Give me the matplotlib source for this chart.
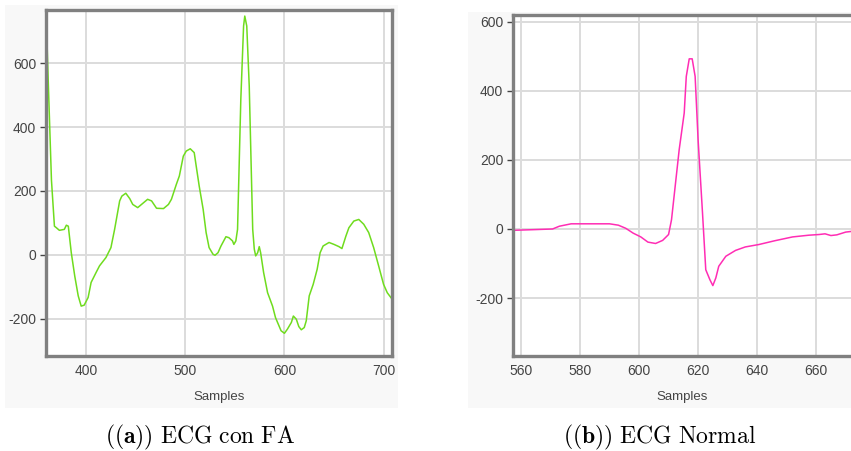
import matplotlib.pyplot as plt
from matplotlib.patches import Rectangle

# ECG with atrial fibrillation (left panel)
fa_samples = [359.5, 362, 365, 368, 370, 373, 378, 380, 382, 385, 388.5, 392, 395, 398,
              402, 405, 410, 413.5, 420, 425, 428.7, 433.8, 436, 440, 444, 447, 452,
              457, 462, 466, 471, 478, 483, 486, 491, 494, 498, 501, 505, 509, 511,
              514, 518, 521, 524, 528, 530, 533, 536, 541, 544, 547.6, 549, 551, 552.7,
              556, 558.8, 560, 562, 564.5, 568, 569.6, 571, 573, 574.6, 576, 579, 583,
              588, 591, 596.6, 600, 603, 607, 609, 612, 614.5, 617, 620, 622, 625, 629,
              633, 636, 639, 645, 650, 655, 658, 662, 665, 670, 675, 680, 685, 690,
              695, 700, 703.7, 708.8]
fa_values = [768, 520, 234, 90, 85, 77, 80, 93, 90, 7, -66, -128, -160, -157,
             -133, -86, -55, -34, -8, 23, 80, 169, 184, 193, 176, 158, 148,
             161, 174, 169, 146, 145, 158, 174, 221, 247, 309, 325, 332, 320, 278,
             216, 143, 70, 23, 2, -1, 7, 28, 57, 54, 44, 33, 44, 80,
             486, 716, 747, 716, 528, 80, 18, -3, 7, 26, 7, -55, -118,
             -160, -196, -237, -245, -232, -211, -191, -201, -224, -234, -227, -206, -128, -92,
             -45, 7, 28, 39, 33, 26, 20, 59, 85, 106, 111, 96, 70, 23,
             -34, -92, -118, -139]

# Normal ECG (right panel)
nor_samples = [556.8, 564, 570.7, 573, 577, 584, 590, 593, 595.5, 598, 600.6, 603, 605.6,
               608, 610, 611, 613.6, 615.3, 616, 617, 618, 619, 620, 621.5, 622.6, 624,
               625, 626, 627, 629.4, 632.7, 636, 640.6, 646, 652, 657.5, 661, 663, 665,
               667, 670, 672]
nor_values = [-4, -2, 0, 8, 15, 15, 15, 11, 2, -12, -23, -38, -42,
              -33, -16, 27, 230, 336, 442, 493, 493, 442, 259, 46, -118, -147,
              -164, -142, -108, -79, -62, -52, -45, -34, -23, -18, -16, -14, -19,
              -17, -9, -7]

W, H = 851, 451
plt.rcParams['mathtext.fontset'] = 'cm'
plt.rcParams['axes.unicode_minus'] = False

fig = plt.figure(figsize=(W / 100, H / 100), dpi=100)
fig.patch.set_facecolor('white')


def px(x0, y0, x1, y1):
    # pixel box (top-left origin) -> figure fraction rect
    return [x0 / W, 1 - y1 / H, (x1 - x0) / W, (y1 - y0) / H]


# light panel backgrounds behind each chart
for box in (px(5, 5, 398, 408), px(468, 12, 851, 408)):
    fig.add_artist(Rectangle((box[0], box[1]), box[2], box[3],
                             transform=fig.transFigure, facecolor='#f8f8f8',
                             edgecolor='none', zorder=-5))


def style(ax):
    ax.set_zorder(2)
    ax.set_facecolor('white')
    ax.grid(True, color='#dcdcdc', linewidth=1.4)
    ax.set_axisbelow(True)
    for s in ax.spines.values():
        s.set_color('#808080')
        s.set_linewidth(2.4)
    ax.tick_params(axis='y', length=4, width=1, color='#444444', pad=3,
                   labelsize=10, labelcolor='#444444')
    ax.tick_params(axis='x', length=0, pad=6, labelsize=10, labelcolor='#444444')
    for lbl in ax.get_xticklabels() + ax.get_yticklabels():
        lbl.set_fontfamily('Liberation Sans')
    ax.set_xlabel('Samples', fontsize=9.5, color='#444444', labelpad=9,
                  fontfamily='Liberation Sans')


ax1 = fig.add_axes(px(46, 10, 392, 356))
ax1.plot(fa_samples, fa_values, color='#6fdc1e', linewidth=1.1)
ax1.set_xlim(359.5, 708.5)
ax1.set_ylim(-316, 766)
ax1.set_xticks([400, 500, 600, 700])
ax1.set_yticks([-200, 0, 200, 400, 600])
style(ax1)

ax2 = fig.add_axes(px(513, 15, 851, 356))
ax2.plot(nor_samples, nor_values, color='#ff2db4', linewidth=1.1)
ax2.set_xlim(557.3, 671.8)
ax2.set_ylim(-368, 620)
ax2.set_xticks([560, 580, 600, 620, 640, 660])
ax2.set_yticks([-200, 0, 200, 400, 600])
style(ax2)
ax2.spines['right'].set_visible(False)

fig.text(200 / W, 1 - 437 / H, r'$\mathbf{((a))}\ \mathrm{ECG\ con\ FA}$',
         fontsize=17, ha='center', va='center')
fig.text(660 / W, 1 - 437 / H, r'$\mathbf{((b))}\ \mathrm{ECG\ Normal}$',
         fontsize=17, ha='center', va='center')

fig.savefig('out.png', dpi=100)
